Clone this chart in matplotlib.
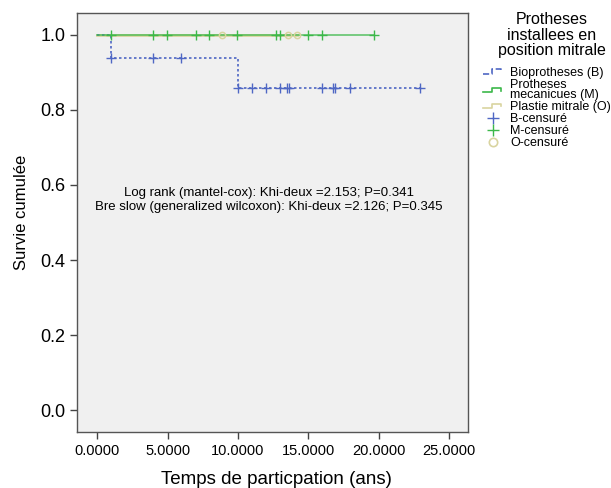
import matplotlib
matplotlib.use("Agg")
import matplotlib.pyplot as plt
from matplotlib.legend_handler import HandlerBase
from matplotlib.lines import Line2D

plt.rcParams['font.family'] = ['Liberation Sans', 'DejaVu Sans']

# Kaplan-Meier step data
b_step_t = [0.0, 1.0, 10.0, 23.0]
b_step_s = [1.0, 0.9375, 0.859, 0.859]
b_cens_t = [1.0, 3.98, 5.95, 10.0, 10.97, 11.97, 12.99, 13.46, 13.65, 16.0, 16.77, 16.9, 17.96, 22.96]
b_cens_s = [0.9375, 0.9375, 0.9375] + [0.859] * 11

m_step_t = [0.0, 19.7]
m_step_s = [1.0, 1.0]
m_cens_t = [1.0, 3.98, 4.97, 6.99, 7.96, 9.9, 12.7, 12.99, 15.0, 15.97, 19.67]
m_cens_s = [1.0] * 11

o_step_t = [0.0, 14.17]
o_step_s = [1.0, 1.0]
o_cens_t = [8.88, 13.53, 14.17]
o_cens_s = [1.0] * 3

xticks = [0, 5, 10, 15, 20, 25]
yticks = [0.0, 0.2, 0.4, 0.6, 0.8, 1.0]

c_b = '#4f67c4'
c_m = '#3cb84a'
c_o = '#d9d4a0'

fig = plt.figure(figsize=(6.11, 4.88), dpi=100)
ax = fig.add_axes([77/611, 1-432/488, (468-77)/611, (432-13)/488])
ax.set_facecolor('#f0f0f0')

ax.step(o_step_t, o_step_s, where='post', color=c_o, lw=2.0, zorder=3)
ax.step(m_step_t, m_step_s, where='post', color=c_m, lw=1.1, alpha=0.85, zorder=4)
ax.step(b_step_t, b_step_s, where='post', color=c_b, lw=1.2, ls=(0, (1.5, 1.5)), zorder=3)
ax.plot(b_cens_t, b_cens_s, ls='none', marker='+', ms=7, mew=1.0, color=c_b, zorder=5)
ax.plot(m_cens_t, m_cens_s, ls='none', marker='+', ms=7, mew=1.0, color=c_m, zorder=5)
ax.plot(o_cens_t, o_cens_s, ls='none', marker='o', ms=4.5, mew=1.1, mfc='none', mec=c_o, zorder=5)

ax.set_xlim(-1.45, 26.35)
ax.set_ylim(-0.058, 1.058)
ax.set_xticks(xticks)
ax.set_xticklabels([f"{v:.4f}" for v in xticks], fontsize=10.5)
ax.set_yticks(yticks)
ax.set_yticklabels([f"{v:.1f}" for v in yticks], fontsize=13)
ax.tick_params(direction='out', length=5, width=1, color='#444444')
for s in ax.spines.values():
    s.set_color('#555555')
    s.set_linewidth(1)

ax.set_xlabel('Temps de particpation (ans)', fontsize=13.5, va='center')
ax.xaxis.set_label_coords(0.509, -0.114)
ax.set_ylabel('Survie cumulée', fontsize=12, va='center')
ax.yaxis.set_label_coords(-0.141, 0.523)

ax.text(12.2, 0.560, 'Log rank (mantel-cox): Khi-deux =2.153; P=0.341\n'
        'Bre slow (generalized wilcoxon): Khi-deux =2.126; P=0.345',
        ha='center', va='center', fontsize=9.5, linespacing=1.25)


class StepHandler(HandlerBase):
    def create_artists(self, legend, orig_handle, xdescent, ydescent, width, height, fontsize, trans):
        x0 = -xdescent
        y0 = -ydescent
        xs = [x0, x0 + width * 0.45, x0 + width * 0.45, x0 + width * 0.9, x0 + width * 0.9]
        ys = [y0 + height * 0.25, y0 + height * 0.25, y0 + height * 0.75, y0 + height * 0.75, y0 + height * 0.45]
        ln = Line2D(xs, ys, color=orig_handle.get_color(), lw=orig_handle.get_linewidth(),
                    ls=orig_handle.get_linestyle(), transform=trans)
        return [ln]


fig.text(552/611, 1 - 35/488, 'Protheses\ninstallees en\nposition mitrale',
         ha='center', va='center', fontsize=11.5, linespacing=1.02, multialignment='center')

h_b = Line2D([], [], color=c_b, lw=1.2, ls=(0, (1.5, 1.5)))
h_m = Line2D([], [], color=c_m, lw=1.2)
h_o = Line2D([], [], color=c_o, lw=1.2)
h_bc = Line2D([], [], color=c_b, ls='none', marker='+', ms=9, mew=1.0)
h_mc = Line2D([], [], color=c_m, ls='none', marker='+', ms=9, mew=1.0)
h_oc = Line2D([], [], color=c_o, ls='none', marker='o', ms=6, mew=1.2, mfc='none')

handles = [h_b, h_m, h_o, h_bc, h_mc, h_oc]
labels = ['Bioprotheses (B)', 'Protheses\nmecanicues (M)', 'Plastie mitrale (O)',
          'B-censuré', 'M-censuré', 'O-censuré']
leg = fig.legend(handles, labels, loc='upper left', bbox_to_anchor=(474/611, 1 - 58/488),
                 frameon=False, fontsize=9.0, handlelength=1.6, handletextpad=0.6,
                 labelspacing=0.0, borderpad=0.2,
                 handler_map={h_b: StepHandler(), h_m: StepHandler(), h_o: StepHandler()})
for t in leg.get_texts():
    t.set_linespacing(0.85)

fig.savefig('out.png', dpi=100)
